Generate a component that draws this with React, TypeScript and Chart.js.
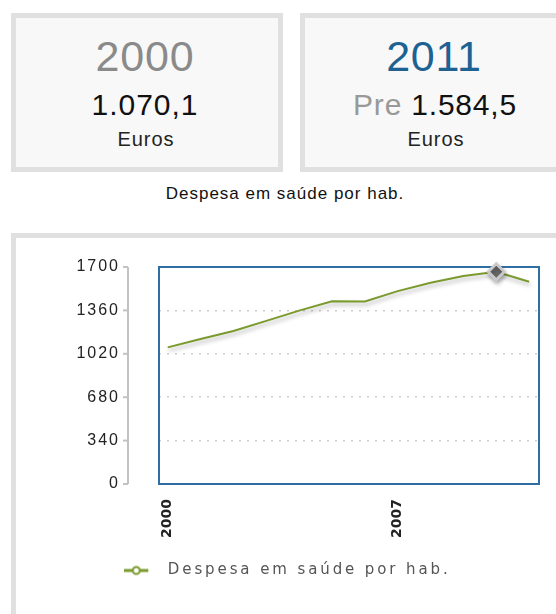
import { useEffect, useRef } from 'react';
import { Chart, registerables } from 'chart.js';

Chart.register(...registerables);

// ---- data ----
const years = [2000, 2001, 2002, 2003, 2004, 2005, 2006, 2007, 2008, 2009, 2010, 2011];
const spending = [1070.1, 1136, 1199, 1278, 1358, 1432, 1430, 1511, 1576, 1629, 1663, 1584.5];
const yTickValues = [0, 340, 680, 1020, 1360, 1700];
const xTickYears = [2000, 2007];
const highlightYear = 2010;
const seriesLabel = 'Despesa em saúde por hab.';

const firstYearLabel = '2000';
const firstValueLabel = '1.070,1';
const lastYearLabel = '2011';
const lastPrefix = 'Pre';
const lastValueLabel = '1.584,5';
const unitLabel = 'Euros';

const GREEN = '#7b9a2e';
const FRAME = '#2f6ea3';
const SANS = "'Liberation Sans', Arial, sans-serif";

function makeLegendSymbol() {
  const c = document.createElement('canvas');
  c.width = 36;
  c.height = 12;
  const g = c.getContext('2d')!;
  g.strokeStyle = GREEN;
  g.lineWidth = 3;
  g.beginPath();
  g.moveTo(0, 6);
  g.lineTo(24, 6);
  g.stroke();
  g.beginPath();
  g.arc(12, 6, 3.5, 0, Math.PI * 2);
  g.fillStyle = '#ffffff';
  g.fill();
  g.lineWidth = 2;
  g.stroke();
  return c;
}

function wrapSpacing(chart: any, obj: any, name: string, spacing: string) {
  const orig = obj[name].bind(obj);
  obj[name] = (...args: any[]) => {
    const ctx = chart.ctx;
    const prev = ctx.letterSpacing;
    ctx.letterSpacing = spacing;
    try {
      return orig(...args);
    } finally {
      ctx.letterSpacing = prev;
    }
  };
}

export default function App() {
  const ref = useRef<HTMLCanvasElement>(null);

  useEffect(() => {
    const canvas = ref.current!;
    const symbol = makeLegendSymbol();

    const spacingPlugin = {
      id: 'spacing',
      beforeUpdate(chart: any) {
        const lg = chart.legend;
        if (lg && !lg._ls) {
          wrapSpacing(chart, lg, 'fit', '2.9px');
          wrapSpacing(chart, lg, 'draw', '2.9px');
          lg._ls = true;
        }
      },
      beforeDraw(chart: any) {
        const ys = chart.scales.y;
        if (ys && !ys._ls) {
          wrapSpacing(chart, ys, 'drawLabels', '2px');
          ys._ls = true;
        }
      },
    };

    const framePlugin = {
      id: 'frame',
      beforeDatasetsDraw(chart: any) {
        const { ctx, chartArea: a } = chart;
        const ys = chart.scales.y;
        ctx.save();
        ctx.strokeStyle = FRAME;
        ctx.lineWidth = 2;
        ctx.strokeRect(a.left, a.top, a.right - a.left, a.bottom - a.top);
        const ax = a.left - 31;
        ctx.strokeStyle = '#c2c2c2';
        ctx.lineWidth = 2;
        ctx.beginPath();
        ctx.moveTo(ax, ys.getPixelForValue(yTickValues[yTickValues.length - 1]));
        ctx.lineTo(ax, ys.getPixelForValue(yTickValues[0]));
        ctx.stroke();
        ys.ticks.forEach((t: any) => {
          const py = ys.getPixelForValue(t.value);
          ctx.beginPath();
          ctx.moveTo(ax - 5, py);
          ctx.lineTo(ax, py);
          ctx.stroke();
        });
        ctx.restore();
      },
    };

    const shadowPlugin = {
      id: 'lineShadow',
      beforeDatasetDraw(chart: any) {
        const c = chart.ctx;
        c.save();
        c.shadowColor = 'rgba(0,0,0,0.3)';
        c.shadowBlur = 4;
        c.shadowOffsetX = 1;
        c.shadowOffsetY = 3;
      },
      afterDatasetDraw(chart: any) {
        chart.ctx.restore();
      },
    };

    const chart = new Chart(canvas, {
      type: 'line',
      data: {
        datasets: [
          {
            label: seriesLabel,
            data: years.map((yr, i) => ({ x: yr, y: spending[i] })),
            borderColor: GREEN,
            borderWidth: 2,
            tension: 0,
            fill: false,
            clip: false as any,
            pointStyle: 'rectRot',
            pointRadius: (c: any) => (years[c.dataIndex] === highlightYear ? 8 : 0),
            pointHoverRadius: (c: any) => (years[c.dataIndex] === highlightYear ? 8 : 0),
            pointBackgroundColor: '#6a6a6a',
            pointBorderColor: 'rgba(205,205,205,0.95)',
            pointBorderWidth: 3,
          },
        ],
      },
      options: {
        responsive: false,
        animation: false,
        layout: { padding: { left: 20, right: 17, top: 29, bottom: 26 } },
        scales: {
          x: {
            type: 'linear',
            min: 1999.735,
            max: 2011.3,
            afterBuildTicks: (s: any) => {
              s.ticks = xTickYears.map((v) => ({ value: v }));
            },
            afterFit: (s: any) => {
              s.height = 71;
            },
            ticks: {
              autoSkip: false,
              maxRotation: 90,
              minRotation: 90,
              padding: 15,
              color: '#222',
              font: { family: 'DejaVu Sans', size: 14, weight: 'bold' },
              callback: (v: any) => String(v),
            },
            grid: { display: false, drawTicks: false },
            border: { display: false },
          },
          y: {
            min: 0,
            max: 1700,
            afterBuildTicks: (s: any) => {
              s.ticks = yTickValues.map((v) => ({ value: v }));
            },
            afterFit: (s: any) => {
              s.width = 123;
              s.paddingTop = 9;
              s.paddingBottom = 9;
            },
            ticks: {
              padding: 39,
              color: '#222',
              font: { family: 'Liberation Sans', size: 16 },
              callback: (v: any) => String(v),
            },
            grid: { color: '#cdcdcd', lineWidth: 1.5, drawTicks: false },
            border: { display: false, dash: [2, 6] },
          },
        },
        plugins: {
          tooltip: { enabled: false },
          legend: {
            position: 'bottom',
            labels: {
              usePointStyle: true,
              pointStyleWidth: 36,
              padding: 8,
              color: '#555',
              font: { family: 'DejaVu Sans', size: 15 },
              generateLabels: () => [
                {
                  text: seriesLabel,
                  pointStyle: symbol as any,
                  fillStyle: GREEN,
                  strokeStyle: GREEN,
                  lineWidth: 0,
                  hidden: false,
                  datasetIndex: 0,
                  fontColor: '#555',
                } as any,
              ],
            },
          },
        },
      } as any,
      plugins: [spacingPlugin, framePlugin, shadowPlugin],
    });

    return () => chart.destroy();
  }, []);

  const abs = (s: any) => ({ position: 'absolute' as const, ...s });

  return (
    <div
      style={{
        position: 'fixed',
        left: 0,
        top: 0,
        width: 556,
        height: 614,
        overflow: 'hidden',
        background: '#fff',
        fontFamily: SANS,
      }}
    >
      {/* stat box 1 */}
      <div
        style={abs({
          left: 11,
          top: 13,
          width: 272,
          height: 159,
          boxSizing: 'border-box',
          border: '5px solid #e0e0e0',
          background: '#f8f8f8',
        })}
      />
      <div style={abs({ left: 9, width: 272, top: 35, textAlign: 'center', fontSize: 43, lineHeight: '43px', color: '#8a8a8a', letterSpacing: 0.8 })}>
        {firstYearLabel}
      </div>
      <div style={abs({ left: 9, width: 272, top: 90, textAlign: 'center', fontSize: 30, lineHeight: '30px', color: '#111', letterSpacing: 1 })}>
        {firstValueLabel}
      </div>
      <div style={abs({ left: 10, width: 272, top: 129, textAlign: 'center', fontSize: 20, lineHeight: '20px', color: '#222', letterSpacing: 1 })}>
        {unitLabel}
      </div>

      {/* stat box 2 */}
      <div
        style={abs({
          left: 300,
          top: 13,
          width: 272,
          height: 159,
          boxSizing: 'border-box',
          border: '5px solid #e0e0e0',
          background: '#f8f8f8',
        })}
      />
      <div style={abs({ left: 298, width: 272, top: 35, textAlign: 'center', fontSize: 43, lineHeight: '43px', color: '#1e6193', letterSpacing: 0.8 })}>
        {lastYearLabel}
      </div>
      <div style={abs({ left: 299, width: 272, top: 90, textAlign: 'center', fontSize: 30, lineHeight: '30px', color: '#111', letterSpacing: 0.8, whiteSpace: 'nowrap' })}>
        <span style={{ color: '#999' }}>{lastPrefix}</span> {lastValueLabel}
      </div>
      <div style={abs({ left: 300, width: 272, top: 129, textAlign: 'center', fontSize: 20, lineHeight: '20px', color: '#222', letterSpacing: 1 })}>
        {unitLabel}
      </div>

      {/* subtitle */}
      <div style={abs({ left: 85, width: 400, top: 184.5, textAlign: 'center', fontSize: 17, lineHeight: '17px', color: '#111', letterSpacing: 1 })}>
        {seriesLabel}
      </div>

      {/* chart panel */}
      <div
        style={abs({
          left: 11,
          top: 233,
          width: 620,
          height: 480,
          boxSizing: 'border-box',
          border: '5px solid #e0e0e0',
          background: '#fff',
        })}
      />
      <canvas ref={ref} width={540} height={376} style={abs({ left: 16, top: 238, width: 540, height: 376 })} />
    </div>
  );
}
